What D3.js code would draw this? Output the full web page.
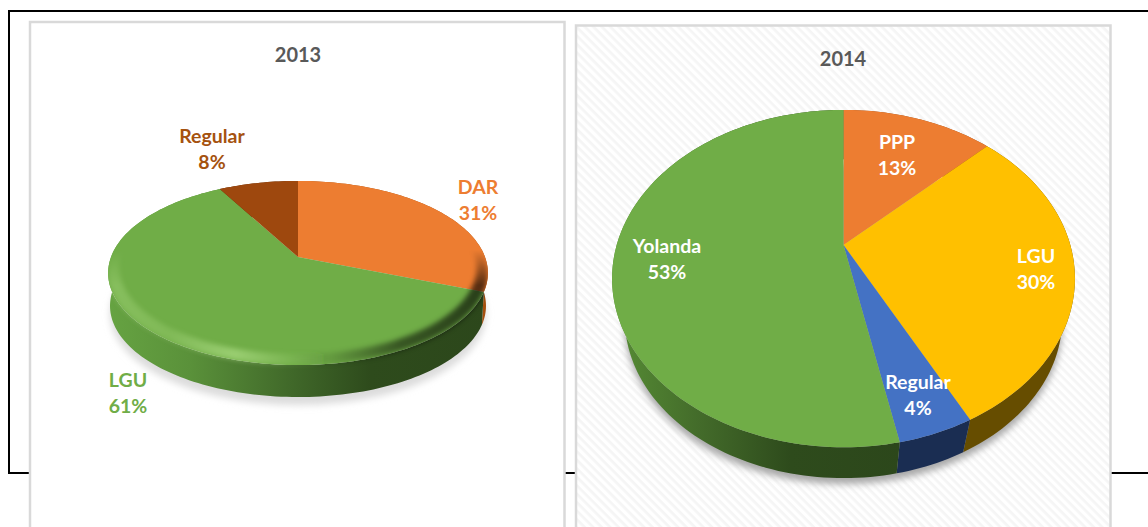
<!DOCTYPE html>
<html>
<head>
<meta charset="utf-8">
<script src="https://cdnjs.cloudflare.com/ajax/libs/d3/7.8.5/d3.min.js"></script>
<style>
html, body { margin: 0; background: #fff; overflow: hidden; }
svg { display: block; }
text { font-family: Lato, "Open Sans", sans-serif; font-weight: 700; text-anchor: middle; }
</style>
</head>
<body>
<div id="container"></div>
<script>
///data
const categories2013 = ["DAR", "LGU", "Regular"];
const values2013 = [31, 61, 8];
const categories2014 = ["PPP", "LGU", "Regular", "Yolanda"];
const values2014 = [12.8, 29.6, 4.4, 53.2];

///colors
const tops2013 = ["#ed7d31", "#70ad47", "#9e480e"];
const walls2013 = ["#a5500f", "url(#wall2013)", "#5f2b08"];
const inks2013 = ["#ed7d31", "#70ad47", "#a5520f"];
const tops2014 = ["#ed7d31", "#ffc000", "#4472c4", "#70ad47"];
const walls2014 = ["#8e4b1d", "#664d00", "#1a2d52", "url(#wall2014)"];
const inks2014 = ["#fff", "#fff", "#fff", "#fff"];

///vars
const w = 1148,
  h = 527;

const svg = d3.select("#container").
  append("svg").
  attr("width", w).
  attr("height", h);

const defs = svg.append("defs");

function hGradient(id, stops) {
  const g = defs.append("linearGradient").
    attr("id", id).
    attr("gradientUnits", "userSpaceOnUse").
    attr("x1", stops[0][0]).attr("x2", stops[stops.length - 1][0]).
    attr("y1", 0).attr("y2", 0);
  const span = stops[stops.length - 1][0] - stops[0][0];
  stops.forEach(s => {
    g.append("stop").
      attr("offset", (s[0] - stops[0][0]) / span).
      attr("stop-color", s[1]).
      attr("stop-opacity", s[2] === undefined ? 1 : s[2]);
  });
}

hGradient("wall2013", [[108, "#66a342"], [190, "#5a913a"], [300, "#3e6528"], [370, "#2e4b1c"], [490, "#2c471b"]]);
hGradient("wall2014", [[620, "#558a34"], [700, "#436b2a"], [790, "#2e4b1c"], [905, "#2c471b"]]);
hGradient("rim2013", [
  [108, "#d8ffb0", 0.22], [170, "#d8ffb0", 0.16], [235, "#d8ffb0", 0.4], [290, "#d8ffb0", 0.1],
  [330, "#000", 0.1], [400, "#000", 0.5], [490, "#000", 0.65]
]);

///rim only shows on the lower part of the disc
const rimFade = defs.append("linearGradient").
  attr("id", "rimFade").
  attr("gradientUnits", "userSpaceOnUse").
  attr("x1", 0).attr("x2", 0).attr("y1", 250).attr("y2", 285);
rimFade.append("stop").attr("offset", 0).attr("stop-color", "#000");
rimFade.append("stop").attr("offset", 1).attr("stop-color", "#fff");
defs.append("mask").attr("id", "rimMask").
  attr("maskUnits", "userSpaceOnUse").
  attr("x", 0).attr("y", 0).attr("width", w).attr("height", h).
  append("rect").
  attr("width", w).attr("height", h).
  attr("fill", "url(#rimFade)");

defs.append("filter").attr("id", "soft").
  attr("x", "-10%").attr("y", "-10%").attr("width", "120%").attr("height", "130%").
  append("feGaussianBlur").attr("stdDeviation", 3.5);
defs.append("filter").attr("id", "softRim").
  attr("x", "-5%").attr("y", "-5%").attr("width", "110%").attr("height", "110%").
  append("feGaussianBlur").attr("stdDeviation", 2.6);

const hatch = defs.append("pattern").
  attr("id", "hatch").
  attr("patternUnits", "userSpaceOnUse").
  attr("width", 6).attr("height", 6).
  attr("patternTransform", "rotate(45)");
hatch.append("rect").attr("width", 6).attr("height", 6).attr("fill", "#fff");
hatch.append("rect").attr("width", 6).attr("height", 2.6).attr("fill", "#f5f5f5");

///frame behind the cards
svg.append("rect").
  attr("x", 9).attr("y", 11).
  attr("width", 1160).attr("height", 462).
  attr("fill", "#fff").
  attr("stroke", "#000").
  attr("stroke-width", 2);

///cards
svg.append("rect").
  attr("x", 30).attr("y", 22).
  attr("width", 534.5).attr("height", 530).
  attr("fill", "#fff").
  attr("stroke", "#d9d9d9").
  attr("stroke-width", 2.5);
svg.append("rect").
  attr("x", 576).attr("y", 25.5).
  attr("width", 534.5).attr("height", 530).
  attr("fill", "url(#hatch)").
  attr("stroke", "#d9d9d9").
  attr("stroke-width", 2.5);

const pie = d3.pie().sort(null);
const line = d3.line();

function project(g, a, lower) {
  const u = Math.sin(a),
    v = -Math.cos(a),
    ww = 1 - g.k * v,
    s = lower ? g.s : 1,
    dy = lower ? g.dy : 0;
  return [g.cx + s * g.rx * u / ww, g.cy + dy + s * g.ry * v / ww];
}

function sample(a0, a1) {
  const n = Math.max(2, Math.ceil((a1 - a0) * 40));
  return d3.range(n + 1).map(i => a0 + (a1 - a0) * i / n);
}

function drawPie(o) {
  const g = o.geom;
  const arcs = pie(o.values);
  const group = svg.append("g");
  const whole = sample(0, 2 * Math.PI);

  ///shadow
  group.append("path").
    attr("d", line(whole.map(a => {
      const p = project(g, a, true);
      return [p[0], p[1] + o.shadowDrop];
    })) + "Z").
    attr("fill", o.shadowColor).
    attr("filter", "url(#soft)");

  ///side walls
  group.append("g").
    selectAll("path").
    data(arcs).
    join("path").
    attr("d", d => {
      const as = sample(d.startAngle, d.endAngle);
      const top = as.map(a => project(g, a, false));
      const low = as.slice().reverse().map(a => project(g, a, true));
      return line(top.concat(low)) + "Z";
    }).
    attr("fill", (d, i) => o.walls[i]);

  ///top slices
  group.append("g").
    selectAll("path").
    data(arcs).
    join("path").
    attr("d", d => {
      const pts = sample(d.startAngle, d.endAngle).map(a => project(g, a, false));
      return line([[g.cx, g.cy]].concat(pts)) + "Z";
    }).
    attr("fill", (d, i) => o.tops[i]);

  ///bevel on the lower rim, blur may spill onto the wall but not outside the pie
  if (o.rim) {
    const outer = whole.map(a => project(g, a, false));
    const lower = whole.map(a => project(g, a, true));
    const inner = outer.map(p => [
      g.cx + (p[0] - g.cx) * o.rim.scale,
      g.cy + (p[1] - g.cy) * o.rim.scale + o.rim.shift
    ]);
    const clipId = "clip" + o.title;
    const clip = defs.append("clipPath").attr("id", clipId);
    clip.append("path").attr("d", line(outer) + "Z");
    clip.append("path").attr("d", line(lower) + "Z");
    group.append("g").
      attr("clip-path", "url(#" + clipId + ")").
      attr("mask", "url(#rimMask)").
      append("path").
      attr("d", line(outer) + "Z" + line(inner) + "Z").
      attr("fill-rule", "evenodd").
      attr("fill", "url(#" + o.rim.gradient + ")").
      attr("filter", "url(#softRim)");
  }

  ///title
  group.append("text").
    attr("x", o.titlePos[0]).
    attr("y", o.titlePos[1]).
    attr("font-size", 20).
    attr("fill", "#595959").
    text(o.title);

  ///labels
  const labels = group.append("g").
    selectAll("text").
    data(arcs).
    join("text").
    attr("font-size", 19.5).
    attr("fill", (d, i) => o.inks[i]);
  labels.append("tspan").
    attr("x", (d, i) => o.labelPos[i][0]).
    attr("y", (d, i) => o.labelPos[i][1]).
    text((d, i) => o.categories[i]);
  labels.append("tspan").
    attr("x", (d, i) => o.labelPos[i][0]).
    attr("dy", 26).
    text(d => d3.format(".0f")(d.value) + "%");
}

drawPie({
  title: "2013",
  titlePos: [298, 62],
  categories: categories2013,
  values: values2013,
  tops: tops2013,
  walls: walls2013,
  inks: inks2013,
  geom: { cx: 298, cy: 257, rx: 187, ry: 89.3, k: 0.174, s: 0.99, dy: 33 },
  shadowDrop: 8,
  shadowColor: "#dcdcdc",
  rim: { scale: 0.94, shift: -4.5, gradient: "rim2013" },
  labelPos: [[478, 194], [128, 387], [212, 143]]
});

drawPie({
  title: "2014",
  titlePos: [843, 66],
  categories: categories2014,
  values: values2014,
  tops: tops2014,
  walls: walls2014,
  inks: inks2014,
  geom: { cx: 843.5, cy: 245, rx: 226.8, ry: 162, k: 0.199, s: 0.945, dy: 42 },
  shadowDrop: 6,
  shadowColor: "#a8a8a8",
  labelPos: [[897, 149], [1036, 263], [918, 389], [667, 253]]
});
</script>
</body>
</html>
